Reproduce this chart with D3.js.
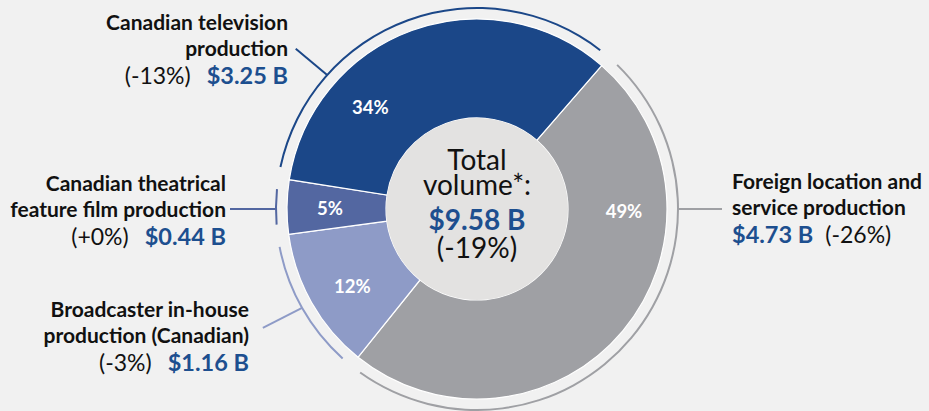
<!DOCTYPE html>
<html><head><meta charset="utf-8">
<script src="https://cdn.jsdelivr.net/npm/d3@7"></script>
<style>
html,body{margin:0;padding:0;background:#f1f1f1;}
svg{display:block;font-family:Lato, "Open Sans", sans-serif;}
</style></head>
<body>
<script>
// ---- data ----
const categories = ["Foreign location and service production","Broadcaster in-house production (Canadian)","Canadian theatrical feature film production","Canadian television production"];
const labelLines = [["Foreign location and","service production"],["Broadcaster in-house","production (Canadian)"],["Canadian theatrical","feature film production"],["Canadian television","production"]];
const values = [4.73, 1.16, 0.44, 3.25];
const valueLabels = ["$4.73 B","$1.16 B","$0.44 B","$3.25 B"];
const changes = ["(-26%)","(-3%)","(+0%)","(-13%)"];
const shares = ["49%","12%","5%","34%"];
const totalLines = ["Total","volume*:"];
const totalValue = "$9.58 B";
const totalChange = "(-19%)";

// ---- style / layout ----
const colors = ["#9fa0a4","#8e9bc7","#5367a1","#1b4788"];
const W = 929, H = 411, cx = 477, cy = 209;
const rOuter = 190, rInner = 91, rRing = 201, rLabel = 147;
const startDeg = 41;
const pctAngles = [91, 238, 270, 313.5];     // degrees, label placement
const leaderAngles = [90, 240.5, 270, 311.8];
const leaderLen = [44, 44, 46, 41];
const textAnchors = [{side:"start", x:732, y:189},{side:"end", x:249, y:317},{side:"end", x:226, y:191},{side:"end", x:288, y:30}];
const lineH = 26;
const rad = d => d * Math.PI / 180;

const svg = d3.select("body").append("svg").attr("width", W).attr("height", H);
const g = svg.append("g").attr("transform", `translate(${cx},${cy})`);

const pie = d3.pie().sort(null).value(d => d).startAngle(rad(startDeg)).endAngle(rad(startDeg) + 2*Math.PI);
const arcs = pie(values);
const arcGen = d3.arc().innerRadius(rInner).outerRadius(rOuter);

g.selectAll("path.slice").data(arcs).join("path")
  .attr("class","slice").attr("d", arcGen)
  .attr("fill", (d,i) => colors[i]).attr("stroke", "#ffffff").attr("stroke-width", 1.2);

g.append("circle").attr("r", rInner).attr("fill", "#e3e2e1");

// outer ring arcs
const pad = rad(3.2);
const ringGen = d3.arc().innerRadius(rRing - 1).outerRadius(rRing + 1);
g.selectAll("path.ring").data(arcs).join("path")
  .attr("class","ring")
  .attr("d", d => ringGen({startAngle: d.startAngle + pad, endAngle: d.endAngle - pad}))
  .attr("fill", (d,i) => colors[i]);

// leader lines
const pt = (deg, r) => [Math.sin(rad(deg)) * r, -Math.cos(rad(deg)) * r];
g.selectAll("line.leader").data(arcs).join("line")
  .attr("class","leader")
  .each(function(d,i){
    const a = pt(leaderAngles[i], rRing);
    let ex, ey;
    if (i === 0 || i === 2) { ex = a[0] + (i===0 ? leaderLen[i] : -leaderLen[i]); ey = a[1]; }
    else {
      const ang = i === 3 ? rad(-140) : rad(153);
      ex = a[0] + Math.cos(ang) * leaderLen[i]; ey = a[1] + Math.sin(ang) * leaderLen[i];
    }
    d3.select(this).attr("x1", a[0]).attr("y1", a[1]).attr("x2", ex).attr("y2", ey);
  })
  .attr("stroke", (d,i) => colors[i]).attr("stroke-width", 2);

// percent labels
g.selectAll("text.pct").data(arcs).join("text")
  .attr("class","pct")
  .attr("x", (d,i) => pt(pctAngles[i], rLabel)[0])
  .attr("y", (d,i) => pt(pctAngles[i], rLabel)[1])
  .attr("dy", "0.35em").attr("text-anchor","middle")
  .attr("fill","#ffffff").attr("font-weight",700).attr("font-size",18.5)
  .text((d,i) => shares[i]);

// category labels
categories.forEach((c,i) => {
  const a = textAnchors[i];
  const t = svg.append("g");
  labelLines[i].forEach((ln,j) => {
    t.append("text").attr("x", a.x).attr("y", a.y + j*lineH)
      .attr("text-anchor", a.side).attr("font-weight",700).attr("font-size",21)
      .attr("fill","#111111").text(ln);
  });
  const ty = a.y + labelLines[i].length*lineH + 2;
  const txt = t.append("text").attr("x", a.x).attr("y", ty).attr("text-anchor", a.side);
  if (a.side === "start") {
    txt.append("tspan").attr("font-weight",700).attr("font-size",23.5).attr("fill","#1d4f8f").text(valueLabels[i]);
    txt.append("tspan").attr("font-weight",400).attr("font-size",23).attr("fill","#111").attr("dx",12).text(changes[i]);
  } else {
    txt.append("tspan").attr("font-weight",400).attr("font-size",23).attr("fill","#111").text(changes[i]);
    txt.append("tspan").attr("font-weight",700).attr("font-size",23.5).attr("fill","#1d4f8f").attr("dx",16).text(valueLabels[i]);
  }
});

// center text
const ct = g.append("g").attr("text-anchor","middle").attr("font-size",28);
ct.append("text").attr("y",-39).attr("font-weight",400).attr("fill","#111").text(totalLines[0]);
ct.append("text").attr("y",-14).attr("font-weight",400).attr("fill","#111").text(totalLines[1]);
ct.append("text").attr("y",21).attr("font-weight",700).attr("fill","#1d4f8f").text(totalValue);
ct.append("text").attr("y",49).attr("font-weight",400).attr("fill","#111").text(totalChange);
</script>
</body></html>
